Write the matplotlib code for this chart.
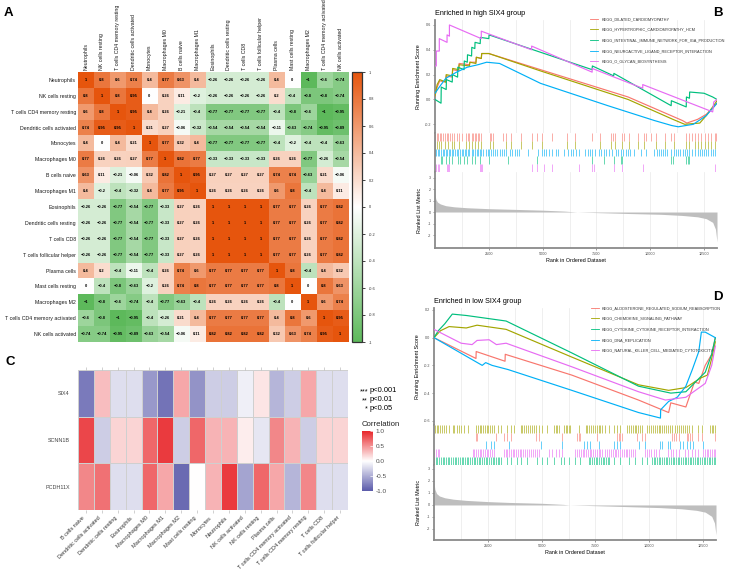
import numpy as np
import matplotlib
matplotlib.use("Agg")
from matplotlib import pyplot as plt
from matplotlib.colors import LinearSegmentedColormap
from matplotlib.lines import Line2D

plt.rcParams["font.family"] = ["Liberation Sans", "DejaVu Sans"]
plt.rcParams["axes.unicode_minus"] = False

W, H = 731, 575

# ---------------- panel A: immune cell correlation ----------------
cells_a = ["Neutrophils", "NK cells resting", "T cells CD4 memory resting",
           "Dendritic cells activated", "Monocytes", "Macrophages M0",
           "B cells naive", "Macrophages M1", "Eosinophils",
           "Dendritic cells resting", "T cells CD8", "T cells follicular helper",
           "Plasma cells", "Mast cells resting", "Macrophages M2",
           "T cells CD4 memory activated", "NK cells activated"]
corr_a = [
    [1, 0.8, 0.6, 0.74, 0.4, 0.77, 0.63, 0.4, -0.26, -0.26, -0.26, -0.26, 0.4, 0, -1, -0.6, -0.74],
    [0.8, 1, 0.8, 0.95, 0, 0.26, 0.11, -0.2, -0.26, -0.26, -0.26, -0.26, 0.2, -0.4, -0.8, -0.8, -0.74],
    [0.6, 0.8, 1, 0.95, 0.4, 0.26, -0.21, -0.4, -0.77, -0.77, -0.77, -0.77, -0.4, -0.8, -0.6, -1, -0.95],
    [0.74, 0.95, 0.95, 1, 0.21, 0.27, -0.06, -0.32, -0.54, -0.54, -0.54, -0.54, -0.11, -0.63, -0.74, -0.95, -0.89],
    [0.4, 0, 0.4, 0.21, 1, 0.77, 0.32, 0.4, -0.77, -0.77, -0.77, -0.77, -0.4, -0.2, -0.4, -0.4, -0.63],
    [0.77, 0.26, 0.26, 0.27, 0.77, 1, 0.82, 0.77, -0.33, -0.33, -0.33, -0.33, 0.26, 0.26, -0.77, -0.26, -0.54],
    [0.63, 0.11, -0.21, -0.06, 0.32, 0.82, 1, 0.95, 0.27, 0.27, 0.27, 0.27, 0.74, 0.74, -0.63, 0.21, -0.06],
    [0.4, -0.2, -0.4, -0.32, 0.4, 0.77, 0.95, 1, 0.26, 0.26, 0.26, 0.26, 0.6, 0.8, -0.4, 0.4, 0.11],
    [-0.26, -0.26, -0.77, -0.54, -0.77, -0.33, 0.27, 0.26, 1, 1, 1, 1, 0.77, 0.77, 0.26, 0.77, 0.82],
    [-0.26, -0.26, -0.77, -0.54, -0.77, -0.33, 0.27, 0.26, 1, 1, 1, 1, 0.77, 0.77, 0.26, 0.77, 0.82],
    [-0.26, -0.26, -0.77, -0.54, -0.77, -0.33, 0.27, 0.26, 1, 1, 1, 1, 0.77, 0.77, 0.26, 0.77, 0.82],
    [-0.26, -0.26, -0.77, -0.54, -0.77, -0.33, 0.27, 0.26, 1, 1, 1, 1, 0.77, 0.77, 0.26, 0.77, 0.82],
    [0.4, 0.2, -0.4, -0.11, -0.4, 0.26, 0.74, 0.6, 0.77, 0.77, 0.77, 0.77, 1, 0.8, -0.4, 0.4, 0.32],
    [0, -0.4, -0.8, -0.63, -0.2, 0.26, 0.74, 0.8, 0.77, 0.77, 0.77, 0.77, 0.8, 1, 0, 0.8, 0.63],
    [-1, -0.8, -0.6, -0.74, -0.4, -0.77, -0.63, -0.4, 0.26, 0.26, 0.26, 0.26, -0.4, 0, 1, 0.6, 0.74],
    [-0.6, -0.8, -1, -0.95, -0.4, -0.26, 0.21, 0.4, 0.77, 0.77, 0.77, 0.77, 0.4, 0.8, 0.6, 1, 0.95],
    [-0.74, -0.74, -0.95, -0.89, -0.63, -0.54, -0.06, 0.11, 0.82, 0.82, 0.82, 0.82, 0.32, 0.63, 0.74, 0.95, 1],
]
cbar_ticks_a = [1, 0.8, 0.6, 0.4, 0.2, 0, -0.2, -0.4, -0.6, -0.8, -1]

# ---------------- panel C: gene vs immune cell correlation ----------------
genes_c = ["SIX4", "SCNN1B", "PCDH11X"]
cells_c = ["B cells naive", "Dendritic cells activated", "Dendritic cells resting",
           "Eosinophils", "Macrophages M0", "Macrophages M1", "Macrophages M2",
           "Mast cells resting", "Monocytes", "Neutrophils", "NK cells activated",
           "NK cells resting", "Plasma cells", "T cells CD4 memory activated",
           "T cells CD4 memory resting", "T cells CD8", "T cells follicular helper"]
six4 = [-0.8, 0.3, -0.2, -0.2, -0.62, -0.85, 0.4, -0.65, -0.3, -0.3, -0.1, 0.12, -0.45, -0.3, 0.4, -0.2, -0.2]
scnn1b = [0.85, -0.3, 0.2, 0.2, 0.7, 0.9, -0.3, 0.7, 0.35, 0.35, 0.08, -0.15, 0.55, 0.35, -0.3, 0.2, 0.2]
pcdh11x = [0.55, 0.65, -0.2, -0.2, 0.7, 0.4, -0.9, 0.0, 0.35, 0.9, -0.55, 0.7, 0.4, -0.45, 0.55, -0.2, -0.2]

# ---------------- panel B: GSEA high SIX4 ----------------
sets_b = ["KEGG_DILATED_CARDIOMYOPATHY", "KEGG_HYPERTROPHIC_CARDIOMYOPATHY_HCM",
          "KEGG_INTESTINAL_IMMUNE_NETWORK_FOR_IGA_PRODUCTION",
          "KEGG_NEUROACTIVE_LIGAND_RECEPTOR_INTERACTION", "KEGG_O_GLYCAN_BIOSYNTHESIS"]
es_dilated = [(0, 0.03), (100, 0.1), (220, 0.15), (500, 0.14), (520, 0.19), (800, 0.18), (820, 0.24),
              (1100, 0.23), (1120, 0.29), (1600, 0.28), (1620, 0.30), (1900, 0.30), (1920, 0.34),
              (2150, 0.33), (2170, 0.37), (2500, 0.37), (4900, 0.24), (8970, 0.02), (11500, -0.17),
              (11700, -0.19), (12200, -0.16), (12600, -0.12), (12900, -0.07), (13100, -0.03)]
es_hcm = [(0, 0.03), (100, 0.12), (220, 0.16), (500, 0.14), (520, 0.2), (800, 0.19), (820, 0.25),
          (1100, 0.24), (1120, 0.28), (1600, 0.27), (1620, 0.30), (1900, 0.29), (1920, 0.34),
          (2150, 0.33), (2170, 0.37), (2500, 0.37), (4900, 0.23), (8970, 0.0), (11050, -0.16),
          (11600, -0.2), (12300, -0.19), (12600, -0.13), (12900, -0.06), (13100, -0.01)]
es_iga = [(0, 0.0), (280, -0.03), (290, 0.10), (520, 0.08), (530, 0.16), (800, 0.14), (810, 0.2),
          (1050, 0.18), (1060, 0.26), (1350, 0.24), (1360, 0.31), (1500, 0.30), (1510, 0.36),
          (1700, 0.35), (1710, 0.42), (1850, 0.41), (1860, 0.46), (2100, 0.45), (2110, 0.50),
          (2500, 0.49), (2510, 0.52), (7300, 0.24), (7310, 0.27), (8300, 0.19), (8310, 0.21),
          (10970, -0.05), (10980, -0.01), (11670, -0.06), (11680, 0.02), (11820, 0.01),
          (11830, 0.06), (12500, 0.05), (12900, 0.02), (13100, 0.0)]
es_neuro = [(0, 0.05), (200, 0.1), (500, 0.17), (1000, 0.22), (1500, 0.26), (2000, 0.28), (2400, 0.3),
            (3000, 0.29), (4900, 0.13), (8030, -0.05), (10200, -0.17), (11000, -0.21), (11300, -0.22),
            (12000, -0.2), (12600, -0.13), (13100, -0.03)]
es_glycan = [(0, 0.27), (60, 0.27), (60, 0.39), (200, 0.39), (200, 0.49), (560, 0.46), (560, 0.52),
             (670, 0.51), (670, 0.60), (2150, 0.49), (2150, 0.55), (4490, 0.40), (4490, 0.43),
             (7300, 0.22), (7300, 0.25), (9650, 0.09), (9650, 0.12), (12900, -0.10), (12950, -0.02),
             (13100, 0.0)]
hits_dilated = [20, 80, 150, 230, 300, 380, 450, 550, 620, 700, 800, 900, 1000, 1100, 1260, 1450, 1530,
                1600, 1700, 1760, 1850, 1920, 2000, 2050, 2150, 2540, 2620, 2700, 3170, 3280, 3520, 3990,
                4490, 4760, 4960, 5430, 6130, 6520, 7300, 7660, 8160, 8280, 8350, 8700, 8790, 9020, 9440,
                9690, 9800, 10030, 10260, 10690, 10970, 11120, 11670, 11820, 11940, 12060, 12210, 12370,
                12530, 12680, 12840, 12990, 13070]
hits_hcm = [20, 100, 200, 300, 450, 620, 800, 900, 1100, 1450, 1600, 1700, 1850, 2000, 2150, 2540, 2700,
            3280, 3520, 3990, 4490, 4960, 6130, 6520, 7660, 8160, 8350, 8700, 9020, 9440, 9690, 10260,
            10690, 11120, 11670, 11820, 12060, 12210, 12370, 12530, 12680, 12840, 12990]
hits_iga = [280, 340, 520, 670, 810, 1050, 1140, 1370, 1500, 1700, 1850, 2100, 2500, 3400, 4730, 7300,
            7850, 8310, 8630, 8700, 10970, 11050, 11670, 11750, 11820]
hits_neuro = [0, 60, 130, 200, 280, 350, 420, 500, 560, 640, 700, 780, 850, 930, 1000, 1080, 1150, 1250,
              1300, 1400, 1450, 1550, 1600, 1700, 1780, 1850, 1950, 2000, 2080, 2150, 2250, 2350, 2450,
              2500, 2600, 2700, 2800, 2900, 3000, 3100, 3200, 3300, 3480, 3600, 3700, 3800, 3900, 4330,
              4800, 4960, 5050, 5150, 5300, 5430, 5600, 5700, 5970, 6200, 6300, 6400, 6550, 6680, 6990,
              7100, 7200, 7300, 7450, 7600, 7700, 7850, 7950, 8100, 8200, 8400, 8500, 8650, 8750, 8850,
              8950, 9050, 9250, 9560, 9800, 10180, 10300, 10400, 10500, 10600, 10700, 10800, 10950,
              11100, 11200, 11300, 11400, 11500, 11600, 11700, 11800, 11950, 12100, 12200, 12300, 12400,
              12500, 12600, 12700, 12800, 12900, 13000, 13080]
hits_glycan = [60, 120, 200, 560, 620, 670, 2100, 2150, 2200, 4490, 4730, 5070, 5430, 6680, 7300, 7380,
               8310, 8700, 9640, 12990]
rows_b = [0, 1, 3, 2, 4]
metric_rank_b = [0, 40, 120, 250, 500, 900, 1500, 2500, 3500, 5000, 6000, 6600, 7500, 9000, 10500,
                 11500, 12200, 12600, 12900, 13030, 13100]
metric_val_b = [1.5, 1.1, 0.85, 0.7, 0.55, 0.45, 0.37, 0.29, 0.24, 0.16, 0.08, 0.0, -0.05, -0.13, -0.2,
                -0.3, -0.42, -0.58, -0.9, -1.5, -2.6]

# ---------------- panel D: GSEA low SIX4 ----------------
sets_d = ["KEGG_ALDOSTERONE_REGULATED_SODIUM_REABSORPTION", "KEGG_CHEMOKINE_SIGNALING_PATHWAY",
          "KEGG_CYTOKINE_CYTOKINE_RECEPTOR_INTERACTION", "KEGG_DNA_REPLICATION",
          "KEGG_NATURAL_KILLER_CELL_MEDIATED_CYTOTOXICITY"]
es_aldo = [(0, 0.0), (1950, -0.15), (1960, -0.10), (3300, -0.17), (3310, -0.12), (6400, -0.27),
           (9500, -0.45), (10900, -0.54), (11000, -0.47), (11700, -0.50), (12100, -0.32),
           (12300, -0.33), (12600, -0.2), (12900, -0.12), (13069, 0.0)]
es_chemo = [(0, 0.0), (300, 0.05), (700, 0.08), (1500, 0.07), (2000, 0.09), (3350, 0.06), (6400, -0.14),
            (9500, -0.34), (10900, -0.38), (11700, -0.36), (12400, -0.29), (12700, -0.27),
            (12900, -0.15), (13069, -0.03)]
es_cyto = [(0, 0.0), (200, 0.05), (500, 0.1), (850, 0.17), (1500, 0.16), (3350, 0.12), (6400, -0.11),
           (9500, -0.35), (11000, -0.40), (11700, -0.39), (12400, -0.28), (12600, -0.25),
           (12900, -0.12), (13069, 0.0)]
es_dna = [(0, 0.0), (2240, -0.2), (2400, -0.18), (2700, -0.2), (3440, -0.23), (6400, -0.38),
          (9500, -0.54), (10520, -0.58), (10530, -0.52), (10900, -0.46), (11300, -0.43),
          (11700, -0.35), (12000, -0.23), (12300, -0.1), (12420, 0.04), (12600, 0.04), (13069, 0.0)]
es_nk = [(0, 0.06), (500, 0.02), (1260, -0.04), (1770, -0.05), (2000, -0.02), (2560, -0.015),
         (2900, -0.05), (3350, -0.04), (6400, -0.21), (9500, -0.39), (10750, -0.45), (11700, -0.43),
         (12600, -0.33), (12900, -0.2), (13069, -0.06)]
hits_aldo = [1940, 2020, 2870, 3250, 3410, 3560, 4720, 4880, 5950, 6650, 6730, 6800, 7580, 8500, 8580,
             8650, 8730, 9430, 9660, 9810, 11050, 11150, 11250, 11360, 11740, 11820, 11900, 11970,
             12280, 12430, 13050]
hits_chemo = [30, 120, 200, 290, 380, 470, 570, 700, 860, 940, 1080, 1170, 1250, 1400, 1560, 1960, 2050,
              2130, 2200, 2280, 2360, 2450, 2530, 2620, 2700, 2790, 2950, 3100, 3410, 3560, 3720, 4030,
              4110, 4200, 4290, 4380, 4470, 4560, 4640, 4720, 4880, 5030, 5260, 5570, 5650, 5730, 5800,
              6030, 6110, 6190, 6270, 6340, 6730, 7040, 7130, 7220, 7310, 7400, 7480, 7570, 7650, 7730,
              7810, 7960, 8110, 8350, 8500, 8660, 8960, 9050, 9140, 9230, 9320, 9400, 9490, 9580, 9660,
              9890, 9980, 10070, 10160, 10250, 10340, 10430, 10520, 10610, 10700, 10790, 10880, 10970,
              11050, 11200, 11290, 11380, 11470, 11560, 11650, 11740, 11830, 11970, 12280, 12430, 12820,
              12900, 12980, 13050]
hits_cyto = [0, 80, 160, 240, 320, 400, 480, 560, 640, 720, 800, 880, 960, 1040, 1120, 1200, 1280, 1360,
             1440, 1520, 1600, 1680, 1760, 1840, 1920, 2000, 2080, 2160, 2240, 2320, 2400, 2480, 2560,
             2640, 2720, 2800, 2880, 2960, 3040, 3100, 3410, 3560, 3870, 4030, 4330, 4800, 5030, 5260,
             5570, 5880, 6030, 6260, 6570, 6800, 7190, 7270, 7350, 7430, 7510, 7590, 7670, 7750, 7830,
             7910, 7990, 8070, 8110, 8350, 8660, 9040, 9350, 9660, 9890, 10120, 10200, 10280, 10360,
             10440, 10520, 10600, 10680, 10760, 10840, 10920, 11000, 11080, 11160, 11240, 11320, 11400,
             11480, 11560, 11640, 11720, 11800, 11880, 11960, 12040, 12120, 12200, 12280, 12360, 12440,
             12520, 12600, 12680, 12760, 12840, 12920, 13000, 13050]
hits_dna = [2400, 2640, 2790, 3490, 4950, 5950, 6960, 7110, 7270, 7650, 8350, 8500, 8660, 9500, 9810,
            10500, 10580, 10890, 10970, 11430, 11590, 11740, 11900, 12050, 12510]
hits_nk = [20, 100, 180, 250, 1800, 1880, 1960, 2040, 2120, 2200, 2280, 2360, 2440, 2520, 2600, 2700,
           2790, 3250, 3330, 3410, 3490, 3570, 3650, 3730, 3810, 3900, 3980, 4060, 4140, 4220, 4300,
           4400, 4500, 4600, 4700, 4800, 4880, 5340, 5500, 5650, 5800, 5950, 6570, 6650, 6730, 6820,
           6900, 6980, 7060, 7150, 7230, 7310, 7400, 7480, 7560, 7650, 7730, 7810, 7960, 8050, 8130,
           8220, 8300, 8390, 8470, 8560, 8640, 8730, 8810, 8900, 8980, 9060, 9150, 9230, 9350, 9810,
           9900, 10000, 10100, 10200, 10300, 10430, 10890, 11000, 11120, 11240, 11360, 11660, 11810,
           11970, 12120, 12280, 12510, 12590, 12670, 12750, 12830, 12910, 12990, 13050]
rows_d = [1, 0, 3, 4, 2]
metric_rank_d = [0, 40, 120, 250, 500, 900, 1500, 2500, 3500, 5000, 6000, 6300, 7500, 9000, 10500,
                 11500, 12200, 12600, 12900, 13030, 13100]
metric_val_d = [1.9, 1.3, 0.95, 0.75, 0.6, 0.48, 0.38, 0.28, 0.21, 0.14, 0.05, 0.0, -0.06, -0.14, -0.22,
                -0.32, -0.45, -0.6, -0.95, -1.5, -2.5]

hue5 = ["#F8766D", "#A3A500", "#00BF7D", "#00B0F6", "#E76BF3"]


def rect(x0, y0, x1, y1):
    """pixel box (top-left origin) -> figure fraction"""
    return [x0 / W, 1 - y1 / H, (x1 - x0) / W, (y1 - y0) / H]


def fmt_cell(v):
    s = "%g" % v
    return s.replace("-", "\u2212")


def draw_panel_a(fig):
    ax = fig.add_axes(rect(78, 72, 348, 342))
    cmap = LinearSegmentedColormap.from_list("ga", ["#5DB95B", "#FFFFFF", "#E6550D"])
    data = np.array(corr_a)
    im = ax.imshow(data, cmap=cmap, vmin=-1, vmax=1, aspect="auto", interpolation="nearest")
    n = len(cells_a)
    for i in range(n):
        for j in range(n):
            ax.text(j, i, fmt_cell(corr_a[i][j]), ha="center", va="center",
                    fontsize=2.9, fontweight="bold", color="black")
    ax.set_xticks(range(n))
    ax.set_yticks(range(n))
    ax.set_xticklabels(cells_a, rotation=90, fontsize=3.8, color="#1a1a1a")
    ax.set_yticklabels(cells_a, fontsize=3.8, color="#1a1a1a")
    ax.xaxis.tick_top()
    ax.tick_params(length=0, pad=1.5)
    for s in ax.spines.values():
        s.set_visible(False)

    cax = fig.add_axes(rect(352, 72, 362, 342))
    cb = fig.colorbar(im, cax=cax, ticks=cbar_ticks_a)
    cb.ax.set_yticklabels(["%g" % t for t in cbar_ticks_a], fontsize=2.8, color="#333333")
    cb.ax.tick_params(length=2.2, width=0.6, pad=2.5, color="#222222")
    cb.outline.set_linewidth(0.9)
    cb.outline.set_edgecolor("#333333")


def draw_panel_c(fig):
    ax = fig.add_axes(rect(78, 370, 348, 510))
    cmap = LinearSegmentedColormap.from_list("gc", ["#5A5AAA", "#FFFFFF", "#E8262A"])
    data = np.array([six4, scnn1b, pcdh11x])
    mesh = ax.pcolormesh(data, cmap=cmap, vmin=-1, vmax=1, edgecolors="#cfcfcf", linewidth=0.6)
    ax.set_xlim(0, len(cells_c))
    ax.set_ylim(len(genes_c), 0)
    ax.set_xticks(np.arange(len(cells_c)) + 0.5)
    ax.set_yticks(np.arange(len(genes_c)) + 0.5)
    ax.set_xticklabels(cells_c, rotation=45, ha="right", fontsize=4.0, color="#333333")
    ax.set_yticklabels(genes_c, fontsize=3.9, color="#444444")
    ax.tick_params(axis="x", top=True, length=2.2, width=0.5, color="#bdbdbd", pad=1.5)
    ax.tick_params(axis="y", length=0, pad=6)
    for s in ax.spines.values():
        s.set_visible(False)

    cax = fig.add_axes(rect(362, 431, 373, 491))
    cb = fig.colorbar(mesh, cax=cax, ticks=[1, 0.5, 0, -0.5, -1])
    cb.ax.set_yticklabels(["1.0", "0.5", "0.0", "-0.5", "-1.0"], fontsize=4.6, color="#4d4d4d")
    cb.ax.tick_params(length=2, width=0.5, color="white", direction="in", pad=2)
    cb.outline.set_visible(False)
    fig.text(362 / W, 1 - 425 / H, "Correlation", fontsize=5.6, color="#222222", va="center")
    for y, stars, label in [(391, "***", "p<0.001"), (399.5, "**", "p<0.01"), (408, "*", "p<0.05")]:
        fig.text(368 / W, 1 - (y + 1) / H, stars, fontsize=5.2, ha="right", va="center")
        fig.text(370 / W, 1 - y / H, label, fontsize=5.4, ha="left", va="center")


def style_gsea_axis(ax):
    ax.spines["top"].set_visible(False)
    ax.spines["right"].set_visible(False)
    ax.spines["left"].set_color("#8a8a8a")
    ax.spines["left"].set_linewidth(1.3)
    ax.spines["bottom"].set_color("#8a8a8a")
    ax.spines["bottom"].set_linewidth(1.3)
    ax.tick_params(labelsize=2.7, colors="#4d4d4d", length=1.5, width=0.4, pad=1.5)


def draw_gsea(fig, box, title, names, curves, hits, rows, m_rank, m_val,
              es_lim, es_ticks, m_lim, leg_anchor):
    x0, y0, y1, y2, y3 = box
    xmax = 13100
    grid = dict(color="#ebebeb", lw=0.55, zorder=0)

    ax1 = fig.add_axes(rect(x0, y0, x0 + 282, y1))
    for k, pairs in enumerate(curves):
        r, e = zip(*pairs)
        ax1.plot(r, e, color=hue5[k], lw=0.85, label=names[k], zorder=3)
    ax1.set_xlim(0, xmax)
    ax1.set_ylim(*es_lim)
    ax1.set_yticks(es_ticks)
    ax1.set_yticklabels(["%.1f" % t for t in es_ticks])
    ax1.set_xticks(np.arange(1250, xmax, 1250))
    ax1.tick_params(axis="x", length=0, labelbottom=False)
    ax1.grid(axis="x", **grid)
    style_gsea_axis(ax1)
    ax1.spines["bottom"].set_visible(False)
    ax1.set_ylabel("Running Enrichment Score", fontsize=3.9, labelpad=2.5)
    ax1.set_title(title, fontsize=5.2, loc="left", pad=3.5)
    handles = [Line2D([], [], color=hue5[k], lw=0.6) for k in range(len(names))]
    ax1.legend(handles, names, loc="upper left", bbox_to_anchor=leg_anchor, frameon=False,
               fontsize=2.8, handlelength=2.1, handletextpad=0.8, labelspacing=1.7,
               borderpad=0, borderaxespad=0, labelcolor="#333333")

    ax2 = fig.add_axes(rect(x0, y1, x0 + 282, y2))
    for row, k in enumerate(rows):
        ax2.vlines(hits[k], row - 0.5, row + 0.5, color=hue5[k], lw=0.7, alpha=0.6)
    ax2.set_xlim(0, xmax)
    ax2.set_ylim(len(rows) - 0.5, -0.5)
    ax2.set_xticks([])
    ax2.set_yticks([])
    style_gsea_axis(ax2)
    ax2.spines["bottom"].set_visible(False)

    ax3 = fig.add_axes(rect(x0, y2, x0 + 282, y3))
    ax3.fill_between(m_rank, 0, m_val, color="#bebebe", lw=0, zorder=2)
    ax3.set_xlim(0, xmax)
    ax3.set_ylim(*m_lim)
    ax3.set_yticks([-2, -1, 0, 1, 2, 3])
    ax3.set_xticks([2500, 5000, 7500, 10000, 12500])
    ax3.set_xticks(np.arange(1250, xmax, 2500), minor=True)
    ax3.tick_params(axis="x", which="minor", length=0)
    ax3.grid(axis="x", which="both", **grid)
    style_gsea_axis(ax3)
    ax3.set_ylabel("Ranked List Metric", fontsize=3.9, labelpad=4)
    ax3.set_xlabel("Rank in Ordered Dataset", fontsize=3.9, labelpad=1.5)


def main():
    fig = plt.figure(figsize=(W / 100, H / 100), dpi=100)
    draw_panel_a(fig)
    draw_panel_c(fig)

    draw_gsea(fig, (435, 20, 133, 172, 248), "Enriched in high SIX4 group", sets_b,
              [es_dilated, es_hcm, es_iga, es_neuro, es_glycan],
              [hits_dilated, hits_hcm, hits_iga, hits_neuro, hits_glycan], rows_b,
              metric_rank_b, metric_val_b, (-0.27, 0.64), [-0.2, 0.0, 0.2, 0.4, 0.6],
              (-3.13, 3.48), (0.55, 1.025))
    draw_gsea(fig, (434, 308, 425, 465, 540), "Enriched in low SIX4 group", sets_d,
              [es_aldo, es_chemo, es_cyto, es_dna, es_nk],
              [hits_aldo, hits_chemo, hits_cyto, hits_dna, hits_nk], rows_d,
              metric_rank_d, metric_val_d, (-0.63, 0.214), [-0.6, -0.4, -0.2, 0.0, 0.2],
              (-2.92, 3.33), (0.555, 1.015))

    for label, x, y in [("A", 8, 13), ("B", 718, 13), ("C", 10, 362), ("D", 718, 297)]:
        fig.text(x / W, 1 - y / H, label, fontsize=9.5, fontweight="bold", ha="center", va="center")

    fig.savefig("out.png", dpi=100)


if __name__ == "__main__":
    main()
